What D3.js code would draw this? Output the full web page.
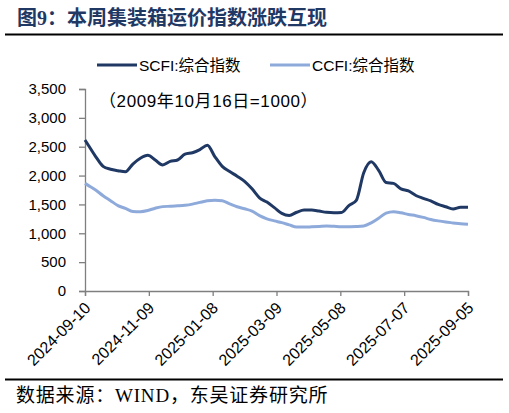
<!DOCTYPE html>
<meta charset="utf-8">
<head>
    <title>图9：本周集装箱运价指数涨跌互现</title>
    <meta charset="utf-8">
    <script type="text/javascript" src="https://cdn.jsdelivr.net/npm/d3@7"></script>
    <style>
        body { margin: 0; background: #fff; }
        text { font-family: "Liberation Sans", "Noto Sans CJK SC", sans-serif; }
        .title { font-family: "Liberation Serif", "Noto Sans CJK SC", serif; font-weight: 700; fill: #1f3864; }
        .source { font-family: "Liberation Serif", "Noto Sans CJK SC", serif; }
        .axis path, .axis line { stroke: #7f7f7f; stroke-width: 1.3px; }
        .axis text { fill: #000; font-size: 15px; }
    </style>
</head>
<body>
    <div id="chart"></div>
    <script>
        // weekly readings, first point is the axis start date
        var dates = ["2024-09-10","2024-09-13","2024-09-20","2024-09-27","2024-10-04","2024-10-11","2024-10-18","2024-10-25",
            "2024-11-01","2024-11-08","2024-11-15","2024-11-22","2024-11-29","2024-12-06","2024-12-13","2024-12-20","2024-12-27",
            "2025-01-03","2025-01-10","2025-01-17","2025-01-24","2025-01-31","2025-02-07","2025-02-14","2025-02-21","2025-02-28",
            "2025-03-07","2025-03-14","2025-03-21","2025-03-28","2025-04-04","2025-04-11","2025-04-18","2025-04-25",
            "2025-05-02","2025-05-09","2025-05-16","2025-05-23","2025-05-30","2025-06-06","2025-06-13","2025-06-20","2025-06-27",
            "2025-07-04","2025-07-11","2025-07-18","2025-07-25","2025-08-01","2025-08-08","2025-08-15","2025-08-22","2025-08-29",
            "2025-09-05"];
        var scfi = [2616,2530,2330,2160,2110,2085,2067,2200,
            2300,2350,2270,2185,2245,2270,2370,2396,2450,
            2525,2330,2160,2070,1990,1900,1770,1615,1540,
            1445,1345,1310,1365,1403,1403,1385,1363,
            1355,1360,1480,1570,2050,2240,2090,1880,1865,
            1770,1733,1655,1605,1560,1500,1460,1421,1450,
            1450];
        var ccfi = [1865,1830,1750,1650,1565,1480,1430,1378,
            1375,1395,1435,1462,1468,1475,1485,1505,1535,
            1562,1572,1563,1510,1460,1425,1385,1305,1250,
            1215,1184,1145,1108,1108,1112,1118,1125,
            1120,1114,1115,1118,1128,1180,1260,1350,1375,
            1355,1325,1305,1275,1240,1215,1195,1180,1165,
            1155];
        var tickDates = ["2024-09-10","2024-11-09","2025-01-08","2025-03-09","2025-05-08","2025-07-07","2025-09-05"];
        var yTicks = [0,500,1000,1500,2000,2500,3000,3500];
        var seriesNames = ["SCFI:综合指数","CCFI:综合指数"];
        var seriesColors = ["#1f3864","#8eaadb"];

        var w = 509
        var h = 413
        var parse = d3.timeParse("%Y-%m-%d");

        var svg = d3.select("#chart")
                        .append("svg")
                        .attr("width", w)
                        .attr("height", h);

        var x = d3.scaleTime()
            .domain([parse(tickDates[0]), parse(tickDates[tickDates.length - 1])])
            .range([85, 468]);
        var y = d3.scaleLinear()
            .domain([0, 3500])
            .range([291, 89]);

        // title and rules
        svg.append("text")
            .attr("class", "title")
            .attr("x", 17)
            .attr("y", 25)
            .style("font-size", "20px")
            .text("图9：本周集装箱运价指数涨跌互现");
        svg.append("line").attr("x1", 5).attr("x2", 503).attr("y1", 34.5).attr("y2", 34.5)
            .attr("stroke", "#000").attr("stroke-width", 2);
        svg.append("line").attr("x1", 5).attr("x2", 503).attr("y1", 379.5).attr("y2", 379.5)
            .attr("stroke", "#000").attr("stroke-width", 2);
        svg.append("text")
            .attr("class", "source")
            .attr("x", 16)
            .attr("y", 402)
            .style("font-size", "19px")
            .style("letter-spacing", "0.8px")
            .text("数据来源：WIND，东吴证券研究所");

        // axes
        svg.append("g")
            .attr("class", "axis")
            .attr("transform", "translate(85,0)")
            .call(d3.axisLeft(y).tickValues(yTicks).tickSize(6).tickPadding(13).tickFormat(d3.format(",")));

        var xAxis = svg.append("g")
            .attr("class", "axis")
            .attr("transform", "translate(0,291)")
            .call(d3.axisBottom(x).tickValues(tickDates.map(parse)).tickSize(5).tickFormat(d3.timeFormat("%Y-%m-%d")));
        xAxis.selectAll("text")
            .attr("x", 0).attr("y", 0).attr("dy", 0)
            .attr("text-anchor", "end")
            .style("font-size", "16px")
            .attr("transform", "translate(6,18) rotate(-45)");

        // lines
        var line = d3.line()
            .x(function(d) { return x(d.date); })
            .y(function(d) { return y(d.value); })
            .curve(d3.curveMonotoneX);

        [ccfi, scfi].forEach(function(vals, k) {
            var idx = k == 0 ? 1 : 0;
            var data = dates.map(function(d, i) { return {date: parse(d), value: vals[i]}; });
            svg.append("path")
                .datum(data)
                .attr("fill", "none")
                .attr("stroke", seriesColors[idx])
                .attr("stroke-width", 3)
                .attr("stroke-linejoin", "round")
                .attr("d", line);
        });

        // legend
        var legX = [97, 270];
        seriesNames.forEach(function(name, i) {
            svg.append("line")
                .attr("x1", legX[i]).attr("x2", legX[i] + 40)
                .attr("y1", 65).attr("y2", 65)
                .attr("stroke", seriesColors[i]).attr("stroke-width", 3);
            svg.append("text")
                .attr("x", legX[i] + 42)
                .attr("y", 70.5)
                .style("font-size", "15.5px")
                .text(name);
        });

        svg.append("text")
            .attr("x", 99)
            .attr("y", 107)
            .style("font-size", "17px")
            .style("letter-spacing", "0.6px")
            .text("（2009年10月16日=1000）");
    </script>
</body>
</html>
